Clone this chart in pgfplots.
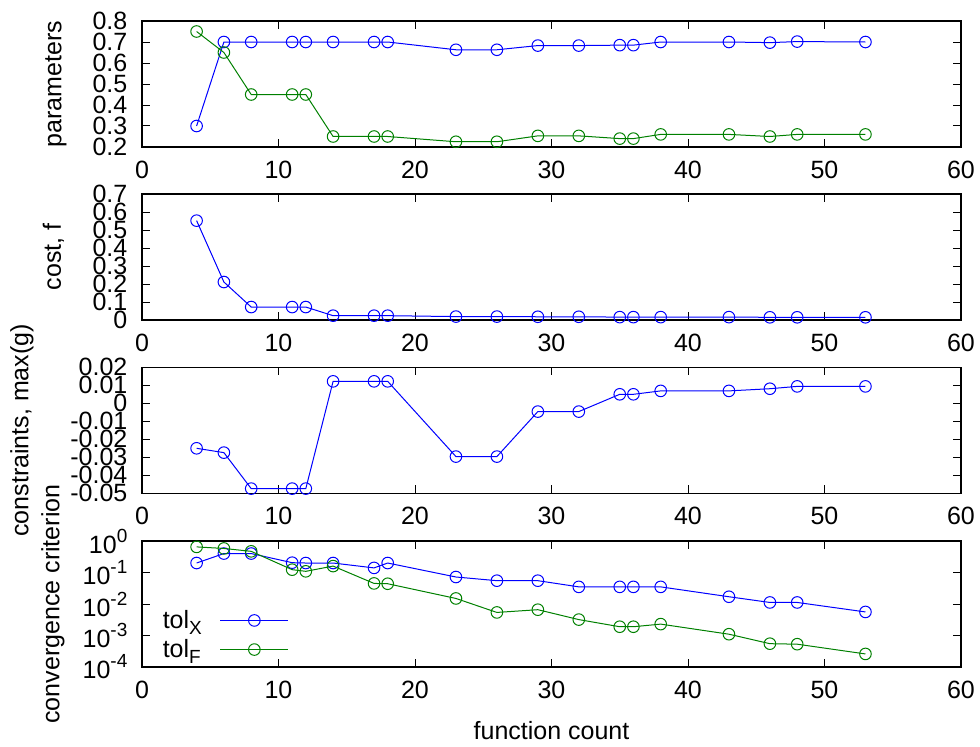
\documentclass[border=0pt]{standalone}
\usepackage{fontspec}
\setmainfont{Liberation Sans}
\usepackage{pgfplots}
\pgfplotsset{compat=1.18}
\definecolor{gpblue}{RGB}{0,0,255}
\definecolor{gpgreen}{RGB}{0,128,0}

\newcommand{\lbl}{\fontsize{12.5}{15}\selectfont}
\newcommand{\sps}[1]{\raisebox{5.5pt}{\fontsize{9.5}{9.5}\selectfont #1}}
\newcommand{\sbs}[1]{\raisebox{-3pt}{\fontsize{9.5}{9.5}\selectfont #1}}

\pgfplotsset{
  gp/.style={
    scale only axis, width=409.5pt, height=63pt,
    anchor=south west,
    xmin=0, xmax=60, xtick={0,10,...,60},
    tick align=inside, major tick length=4pt,
    axis line style={line width=0.6pt},
    every tick/.style={black, line width=0.5pt},
    /pgf/number format/assume math mode=true,
    tick label style={font=\lbl},
    label style={font=\lbl},
    xticklabel style={yshift=-3.3pt},
    yticklabel style={xshift=-3.8pt},
    scaled y ticks=false,
    clip mode=individual,
    every axis plot/.append style={line width=0.5pt, mark=o, mark size=2.9pt, mark options={solid}},
  },
}

\pgfplotstableread{
x   p1    p2
4   0.300 0.750
6   0.700 0.650
8   0.700 0.450
11  0.700 0.450
12  0.700 0.450
14  0.700 0.250
17  0.700 0.250
18  0.700 0.250
23  0.663 0.225
26  0.663 0.225
29  0.683 0.253
32  0.683 0.253
35  0.685 0.240
36  0.685 0.240
38  0.700 0.260
43  0.700 0.260
46  0.697 0.250
48  0.702 0.260
53  0.700 0.260
}\params

\pgfplotstableread{
x   f       g        tolx    tolf
4   0.552  -0.0250   0.200   0.65
6   0.211  -0.0274   0.400   0.58
8   0.072  -0.0474   0.400   0.47
11  0.072  -0.0474   0.205   0.123
12  0.072  -0.0474   0.200   0.109
14  0.024   0.0122   0.200   0.16
17  0.024   0.0122   0.140   0.045
18  0.024   0.0122   0.200   0.044
23  0.019  -0.0296   0.072   0.015
26  0.019  -0.0296   0.055   0.0054
29  0.018  -0.0046   0.055   0.0066
32  0.018  -0.0046   0.035   0.0032
35  0.016   0.0050   0.035   0.0019
36  0.016   0.0050   0.035   0.0019
38  0.016   0.0069   0.035   0.0023
43  0.016   0.0069   0.017   0.0011
46  0.015   0.0081   0.0112  0.00055
48  0.015   0.0094   0.0112  0.00053
53  0.015   0.0094   0.0056  0.00026
}\hist

\begin{document}
\begin{tikzpicture}
\useasboundingbox (0,0) rectangle (490pt,373pt);

% parameters
\begin{axis}[gp, at={(71pt,299.5pt)},
    ymin=0.2, ymax=0.8, ytick={0.2,0.3,...,0.8},
    yticklabels={0.2,0.3,0.4,0.5,0.6,0.7,0.8},
    ylabel={parameters},
    ylabel style={at={(axis description cs:-0.105,0.5)}, anchor=center}]
  \addplot[gpblue] table[x=x, y=p1] {\params};
  \addplot[gpgreen] table[x=x, y=p2] {\params};
\end{axis}

% cost
\begin{axis}[gp, at={(71pt,213pt)},
    ymin=0, ymax=0.7, ytick={0,0.1,...,0.7},
    yticklabels={0,0.1,0.2,0.3,0.4,0.5,0.6,0.7},
    ylabel={cost, f},
    ylabel style={at={(axis description cs:-0.108,0.5)}, anchor=center}]
  \addplot[gpblue] table[x=x, y=f] {\hist};
\end{axis}

% constraints
\begin{axis}[gp, at={(71pt,126.35pt)},
    ymin=-0.05, ymax=0.02,
    ytick={-0.05,-0.04,-0.03,-0.02,-0.01,0,0.01,0.02},
    yticklabels={-0.05,-0.04,-0.03,-0.02,-0.01,0,0.01,0.02},
    ylabel={constraints, max(g)},
    ylabel style={at={(axis description cs:-0.1465,0.5)}, anchor=center}]
  \addplot[gpblue] table[x=x, y=g] {\hist};
\end{axis}

% convergence
\begin{axis}[gp, at={(71pt,39.5pt)},
    ymode=log, ymin=1e-4, ymax=1, yminorticks=false,
    ytick={1e-4,1e-3,1e-2,1e-1,1},
    yticklabels={10\sps{-4},10\sps{-3},10\sps{-2},10\sps{-1},10\sps{0}},
    ylabel={convergence criterion},
    ylabel style={at={(axis description cs:-0.1087,0.5)}, anchor=center},
    xlabel={function count},
    xlabel style={at={(axis description cs:0.5,-0.508)}, anchor=center},
    legend cell align=left, legend plot pos=right,
    legend style={draw=none, fill=none, font=\lbl, inner sep=0pt,
      at={(axis description cs:0.02,0.254)}, anchor=west,
      /tikz/every odd column/.append style={column sep=7pt}},
    legend image code/.code={\draw[mark repeat=2, mark phase=2, #1]
      plot coordinates {(0pt,0pt) (17pt,0pt) (34pt,0pt)};}]
  \addplot[gpblue] table[x=x, y=tolx] {\hist};
  \addlegendentry{tol\sbs{X}}
  \addplot[gpgreen] table[x=x, y=tolf] {\hist};
  \addlegendentry{tol\sbs{F}}
\end{axis}
\end{tikzpicture}
\end{document}
